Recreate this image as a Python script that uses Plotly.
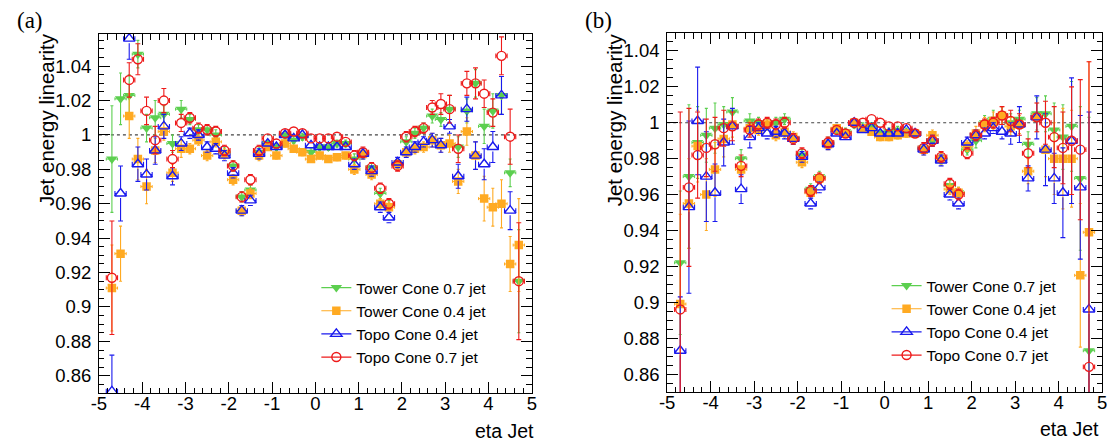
import plotly.graph_objects as go

# eta bin centres of the jet linearity scan
eta = [-4.7, -4.5, -4.3, -4.1, -3.9, -3.7, -3.5, -3.3, -3.1, -2.9, -2.7, -2.5,
       -2.3, -2.1, -1.9, -1.7, -1.5, -1.3, -1.1, -0.9, -0.7, -0.5, -0.3, -0.1,
       0.1, 0.3, 0.5, 0.7, 0.9, 1.1, 1.3, 1.5, 1.7, 1.9, 2.1, 2.3, 2.5, 2.7,
       2.9, 3.1, 3.3, 3.5, 3.7, 3.9, 4.1, 4.3, 4.5, 4.7]
eta_halfwidth = 0.13

# ---------------- panel (a) ----------------
a_tower07 = [0.986, 1.021, 1.023, 1.047, 1.004, 1.010, 1.012, 0.995, 1.015, 1.009, 1.003, 1.003,
             1.000, 0.990, 0.982, 0.964, 0.968, 0.990, 0.995, 0.993, 1.000, 0.997, 0.999, 0.990,
             0.993, 0.993, 0.995, 0.995, 0.986, 0.989, 0.981, 0.966, 0.959, 0.983, 0.996, 1.001,
             1.004, 1.011, 1.009, 1.015, 0.993, 1.014, 1.030, 1.005, 1.014, 1.023, 0.978, 0.915]
a_tower07_err = [0.031, 0.015, 0.012, 0.008, 0.008, 0.010, 0.005, 0.005, 0.005, 0.003, 0.003, 0.003,
                 0.003, 0.003, 0.003, 0.003, 0.003, 0.003, 0.002, 0.002, 0.002, 0.002, 0.002, 0.002,
                 0.002, 0.002, 0.002, 0.002, 0.003, 0.003, 0.003, 0.003, 0.003, 0.003, 0.003, 0.003,
                 0.003, 0.004, 0.004, 0.008, 0.006, 0.007, 0.008, 0.010, 0.010, 0.011, 0.008, 0.030]

a_tower04 = [0.911, 0.931, 1.011, 0.986, 0.970, 0.991, 1.002, 0.978, 0.992, 0.992, 0.997, 0.988,
             0.996, 0.989, 0.974, 0.956, 0.966, 0.988, 0.993, 0.988, 0.995, 0.992, 0.990, 0.986,
             0.988, 0.986, 0.987, 0.988, 0.980, 0.989, 0.977, 0.960, 0.958, 0.983, 0.990, 0.992,
             0.993, 0.997, 0.994, 0.995, 0.973, 1.002, 0.988, 0.963, 0.958, 0.960, 0.925, 0.936]
a_tower04_err = [0.025, 0.016, 0.013, 0.012, 0.010, 0.007, 0.005, 0.005, 0.005, 0.003, 0.003, 0.003,
                 0.003, 0.003, 0.003, 0.003, 0.003, 0.003, 0.002, 0.002, 0.002, 0.002, 0.002, 0.002,
                 0.002, 0.002, 0.002, 0.002, 0.003, 0.003, 0.003, 0.003, 0.003, 0.003, 0.003, 0.003,
                 0.003, 0.004, 0.004, 0.005, 0.007, 0.008, 0.008, 0.013, 0.011, 0.014, 0.016, 0.027]

a_topo04 = [0.851, 0.966, 1.056, 0.983, 0.977, 0.991, 1.005, 0.976, 0.995, 1.001, 1.000, 0.993,
            0.992, 0.988, 0.978, 0.956, 0.962, 0.989, 0.995, 0.993, 1.000, 0.998, 1.000, 0.994,
            0.993, 0.993, 0.993, 0.993, 0.983, 0.989, 0.979, 0.958, 0.952, 0.984, 0.990, 0.993,
            0.996, 0.997, 0.994, 1.005, 0.976, 1.015, 0.988, 0.983, 0.993, 1.023, 0.956, None]
a_topo04_err = [0.021, 0.016, 0.012, 0.010, 0.009, 0.008, 0.007, 0.005, 0.004, 0.003, 0.003, 0.003,
                0.003, 0.003, 0.003, 0.003, 0.003, 0.003, 0.002, 0.002, 0.002, 0.002, 0.002, 0.002,
                0.002, 0.002, 0.002, 0.002, 0.003, 0.003, 0.003, 0.003, 0.003, 0.003, 0.003, 0.003,
                0.003, 0.004, 0.004, 0.004, 0.007, 0.007, 0.008, 0.009, 0.009, 0.011, 0.011, 0.0]

a_topo07 = [0.917, None, 1.032, 1.044, 1.014, 0.997, 1.020, 0.986, 1.007, 1.010, 1.004, 1.003,
            1.002, 0.991, 0.982, 0.964, 0.974, 0.991, 0.998, 0.995, 1.001, 1.002, 1.001, 0.998,
            0.998, 0.998, 0.999, 0.996, 0.988, 0.990, 0.981, 0.969, 0.960, 0.982, 0.999, 1.002,
            1.004, 1.016, 1.018, 1.015, 0.992, 1.030, 1.030, 1.024, 1.013, 1.046, 0.999, 0.915]
a_topo07_err = [0.033, 0.0, 0.010, 0.009, 0.008, 0.008, 0.007, 0.005, 0.005, 0.003, 0.003, 0.003,
                0.003, 0.003, 0.003, 0.003, 0.003, 0.003, 0.002, 0.002, 0.002, 0.002, 0.002, 0.002,
                0.002, 0.002, 0.002, 0.002, 0.003, 0.003, 0.003, 0.003, 0.003, 0.003, 0.003, 0.003,
                0.003, 0.004, 0.006, 0.008, 0.008, 0.007, 0.009, 0.008, 0.008, 0.011, 0.016, 0.034]

# ---------------- panel (b) ----------------
b_tower07 = [0.922, 0.970, 0.989, 0.993, 0.997, 0.999, 1.006, 0.980, 1.001, 1.000, 0.999, 1.000,
             1.002, 0.991, 0.982, 0.963, 0.970, 0.989, 0.996, 0.995, 0.999, 0.998, 0.998, 0.994,
             0.995, 0.996, 0.995, 0.994, 0.986, 0.990, 0.980, 0.965, 0.961, 0.985, 0.990, 1.000,
             1.002, 1.004, 1.000, 1.002, 0.988, 1.005, 1.005, 0.996, 0.992, 0.998, 0.969, 0.873]
b_tower07_err = [0.040, 0.040, 0.020, 0.015, 0.014, 0.010, 0.008, 0.005, 0.004, 0.003, 0.003, 0.003,
                 0.003, 0.003, 0.003, 0.003, 0.003, 0.003, 0.002, 0.002, 0.002, 0.002, 0.002, 0.002,
                 0.002, 0.002, 0.002, 0.002, 0.003, 0.003, 0.003, 0.003, 0.003, 0.003, 0.004, 0.004,
                 0.005, 0.005, 0.005, 0.005, 0.007, 0.009, 0.010, 0.015, 0.018, 0.025, 0.040, 0.130]

b_tower04 = [0.899, 0.955, 0.987, 0.960, 0.974, 0.991, 0.999, 0.974, 0.997, 0.996, 0.999, 0.993,
             0.995, 0.992, 0.978, 0.961, 0.969, 0.988, 0.997, 0.994, 1.000, 0.997, 0.995, 0.992,
             0.992, 0.993, 0.994, 0.994, 0.985, 0.993, 0.980, 0.963, 0.961, 0.987, 0.994, 0.999,
             1.001, 1.004, 0.998, 0.999, 0.973, 1.003, 0.985, 0.980, 0.980, 0.980, 0.915, 0.939]
b_tower04_err = [0.050, 0.025, 0.020, 0.020, 0.015, 0.010, 0.007, 0.004, 0.004, 0.003, 0.003, 0.003,
                 0.003, 0.003, 0.003, 0.003, 0.003, 0.003, 0.002, 0.002, 0.002, 0.002, 0.002, 0.002,
                 0.002, 0.002, 0.002, 0.002, 0.003, 0.003, 0.003, 0.003, 0.003, 0.003, 0.004, 0.004,
                 0.005, 0.005, 0.005, 0.005, 0.007, 0.008, 0.015, 0.020, 0.028, 0.027, 0.040, 0.095]

b_topo04 = [0.873, 0.953, 1.001, 0.970, 0.961, 0.989, 0.998, 0.963, 0.992, 0.997, 0.994, 0.995,
            0.994, 0.991, 0.981, 0.955, 0.964, 0.988, 0.994, 0.992, 1.000, 0.996, 0.997, 0.994,
            0.994, 0.994, 0.996, 0.994, 0.985, 0.990, 0.979, 0.960, 0.955, 0.989, 0.993, 0.994,
            0.997, 0.995, 0.994, 0.999, 0.969, 1.003, 0.985, 0.969, 0.961, 0.990, 0.964, 0.896]
b_topo04_err = [0.030, 0.048, 0.030, 0.025, 0.016, 0.013, 0.010, 0.008, 0.006, 0.003, 0.003, 0.003,
                0.003, 0.003, 0.003, 0.003, 0.003, 0.003, 0.002, 0.002, 0.002, 0.002, 0.002, 0.002,
                0.002, 0.002, 0.002, 0.002, 0.003, 0.003, 0.003, 0.003, 0.003, 0.003, 0.003, 0.003,
                0.003, 0.004, 0.006, 0.010, 0.007, 0.012, 0.020, 0.014, 0.025, 0.035, 0.040, 0.110]

b_topo07 = [0.896, 0.964, 0.982, 0.986, 0.988, 0.997, 0.998, 0.976, 0.996, 0.999, 1.000, 0.999,
            1.000, 0.991, 0.983, 0.962, 0.969, 0.989, 0.996, 0.994, 1.000, 1.000, 1.002, 1.000,
            0.998, 0.998, 0.997, 0.994, 0.986, 0.990, 0.981, 0.966, 0.960, 0.983, 0.993, 0.999,
            1.000, 1.004, 1.001, 0.999, 0.983, 1.003, 1.000, 0.992, 0.986, 0.990, 0.985, 0.864]
b_topo07_err = [0.110, 0.044, 0.024, 0.016, 0.015, 0.010, 0.008, 0.006, 0.004, 0.003, 0.003, 0.003,
                0.003, 0.003, 0.003, 0.003, 0.003, 0.003, 0.002, 0.002, 0.002, 0.002, 0.002, 0.002,
                0.002, 0.002, 0.002, 0.002, 0.003, 0.003, 0.003, 0.003, 0.003, 0.003, 0.003, 0.003,
                0.003, 0.005, 0.006, 0.006, 0.008, 0.008, 0.012, 0.017, 0.020, 0.030, 0.039, 0.170]

x_ticks = [-5, -4, -3, -2, -1, 0, 1, 2, 3, 4, 5]
x_ticktext = ["-5", "-4", "-3", "-2", "-1", "0", "1", "2", "3", "4", "5"]
y_ticks = [0.86, 0.88, 0.90, 0.92, 0.94, 0.96, 0.98, 1.00, 1.02, 1.04]
y_ticktext = ["0.86", "0.88", "0.9", "0.92", "0.94", "0.96", "0.98", "1", "1.02", "1.04"]

legend_names = ["Tower Cone 0.7 jet", "Tower Cone 0.4 jet", "Topo Cone 0.4 jet", "Topo Cone 0.7 jet"]

styles = [
    dict(color="#5ccf4f", symbol="triangle-down", size=10, fill=True),
    dict(color="#ffaa22", symbol="square", size=8.5, fill=True),
    dict(color="#1a1aee", symbol="triangle-up-open", size=10, fill=False),
    dict(color="#ee1a1a", symbol="circle-open", size=9, fill=False),
]

W, H = 1109, 443
FONT = "Liberation Sans"

# plot-area geometry (pixels) used to leave the inside of hollow markers free of error lines
PANEL_W = 438
PANEL_H = 359
MARKER_GAP_PX = 4.6

fig = go.Figure()


def open_marker_errors(vals, errs, color, xa, ya, ymin, ymax):
    """Error bars for hollow markers, interrupted where the marker outline sits."""
    gx = MARKER_GAP_PX * 10.0 / PANEL_W
    gy = MARKER_GAP_PX * (ymax - ymin) / PANEL_H
    lx, ly, cap_vx, cap_vy, cap_hx, cap_hy = [], [], [], [], [], []
    for x, y, e in zip(eta, vals, errs):
        if y is None:
            continue
        if e > gy:
            lx += [x, x, None, x, x, None]
            ly += [y + gy, y + e, None, y - gy, y - e, None]
            cap_vx += [x, x]
            cap_vy += [y + e, y - e]
        lx += [x - eta_halfwidth, x - gx, None, x + gx, x + eta_halfwidth, None]
        ly += [y, y, None, y, y, None]
        cap_hx += [x - eta_halfwidth, x + eta_halfwidth]
        cap_hy += [y, y]
    common = dict(xaxis=xa, yaxis=ya, showlegend=False, hoverinfo="skip")
    fig.add_trace(go.Scatter(x=lx, y=ly, mode="lines", line=dict(color=color, width=1.1),
                             connectgaps=False, **common))
    fig.add_trace(go.Scatter(x=cap_vx, y=cap_vy, mode="markers",
                             marker=dict(symbol="line-ew", size=3.5, line=dict(color=color, width=1.1)),
                             cliponaxis=True, **common))
    fig.add_trace(go.Scatter(x=cap_hx, y=cap_hy, mode="markers",
                             marker=dict(symbol="line-ns", size=3.5, line=dict(color=color, width=1.1)),
                             cliponaxis=True, **common))


def add_panel(series, xa, ya, legend_id, ymin, ymax):
    for (vals, errs), st, name in zip(series, styles, legend_names):
        marker = dict(symbol=st["symbol"], size=st["size"], color=st["color"])
        if st["fill"]:
            marker["line"] = dict(width=0)
            fig.add_trace(go.Scatter(
                x=eta, y=vals, mode="markers", marker=marker,
                error_y=dict(type="data", array=errs, color=st["color"], thickness=1.1, width=1.5),
                error_x=dict(type="constant", value=eta_halfwidth, color=st["color"], thickness=1, width=1.5),
                xaxis=xa, yaxis=ya, showlegend=False, hoverinfo="skip",
            ))
        else:
            marker["line"] = dict(color=st["color"], width=1.4)
            open_marker_errors(vals, errs, st["color"], xa, ya, ymin, ymax)
            fig.add_trace(go.Scatter(
                x=eta, y=vals, mode="markers", marker=marker,
                xaxis=xa, yaxis=ya, showlegend=False, hoverinfo="skip",
            ))
        # legend entry drawn as line + marker
        fig.add_trace(go.Scatter(
            x=[None], y=[None], mode="lines+markers", name=name,
            marker=marker, line=dict(color=st["color"], width=1.2),
            xaxis=xa, yaxis=ya, showlegend=True, legend=legend_id,
        ))


A_TOP, B_TOP, Y_LOW = 1.0587, 1.050, 0.85

add_panel([(a_tower07, a_tower07_err), (a_tower04, a_tower04_err),
           (a_topo04, a_topo04_err), (a_topo07, a_topo07_err)], "x", "y", "legend", Y_LOW, A_TOP)
add_panel([(b_tower07, b_tower07_err), (b_tower04, b_tower04_err),
           (b_topo04, b_topo04_err), (b_topo07, b_topo07_err)], "x2", "y2", "legend2", Y_LOW, B_TOP)

tickfont = dict(family=FONT, size=18.5, color="black")


def xaxis_cfg(domain, anchor):
    return dict(domain=domain, anchor=anchor, range=[-5, 5], tickvals=x_ticks, ticktext=x_ticktext,
                ticks="inside", ticklen=11, tickwidth=1, tickcolor="black",
                minor=dict(ticks="inside", ticklen=5.5, dtick=0.2, tick0=0, tickcolor="black", tickwidth=1),
                showline=True, linecolor="black", linewidth=1, mirror="ticks",
                showgrid=False, zeroline=False, tickfont=tickfont, ticklabelstandoff=-6)


def yaxis_cfg(domain, anchor, top):
    return dict(domain=domain, anchor=anchor, range=[Y_LOW, top], tickvals=y_ticks, ticktext=y_ticktext,
                ticks="inside", ticklen=11, tickwidth=1, tickcolor="black",
                minor=dict(ticks="inside", ticklen=5.5, dtick=0.005, tick0=0.85, tickcolor="black", tickwidth=1),
                showline=True, linecolor="black", linewidth=1, mirror="ticks",
                showgrid=False, zeroline=False, tickfont=tickfont, ticklabelstandoff=3)


fig.update_layout(
    width=W, height=H, autosize=False,
    margin=dict(l=0, r=0, t=0, b=0),
    paper_bgcolor="white", plot_bgcolor="white",
    xaxis=xaxis_cfg([92 / W, 530 / W], "y"),
    yaxis=yaxis_cfg([(H - 393) / H, (H - 34) / H], "x", A_TOP),
    xaxis2=xaxis_cfg([667 / W, 1107 / W], "y2"),
    yaxis2=yaxis_cfg([(H - 392) / H, (H - 33) / H], "x2", B_TOP),
    legend=dict(x=312 / W, y=(H - 271) / H, xanchor="left", yanchor="top",
                bgcolor="rgba(0,0,0,0)", font=dict(family=FONT, size=15.5, color="black"),
                tracegroupgap=0, itemwidth=30),
    legend2=dict(x=889 / W, y=(H - 269) / H, xanchor="left", yanchor="top",
                 bgcolor="rgba(0,0,0,0)", font=dict(family=FONT, size=15.5, color="black"),
                 tracegroupgap=0, itemwidth=30),
)

# reference line at unit linearity
for xr, yr in (("x", "y"), ("x2", "y2")):
    fig.add_shape(type="line", xref=xr, yref=yr, x0=-5, x1=5, y0=1, y1=1,
                  line=dict(color="#444444", width=1.2, dash="3px,3px"), layer="below")

ann_font = dict(family=FONT, size=20.5, color="black")
for xc in (39, 614):
    fig.add_annotation(text="Jet energy linearity", xref="paper", yref="paper",
                       x=xc / W, y=(H - 31) / H, xanchor="center", yanchor="top",
                       textangle=-90, showarrow=False, font=ann_font)
for xr_, yc in ((534, 431), (1106, 429)):
    fig.add_annotation(text="eta Jet", xref="paper", yref="paper",
                       x=xr_ / W, y=(H - yc) / H, xanchor="right", yanchor="middle",
                       showarrow=False, font=dict(family=FONT, size=19.5, color="black"))
for lab, xc in (("(a)", 22), ("(b)", 597)):
    fig.add_annotation(text=lab, xref="paper", yref="paper", x=xc / W, y=(H - 21) / H,
                       xanchor="center", yanchor="middle", showarrow=False,
                       font=dict(family="Liberation Serif", size=23, color="black"))

fig.write_html("out.html")
